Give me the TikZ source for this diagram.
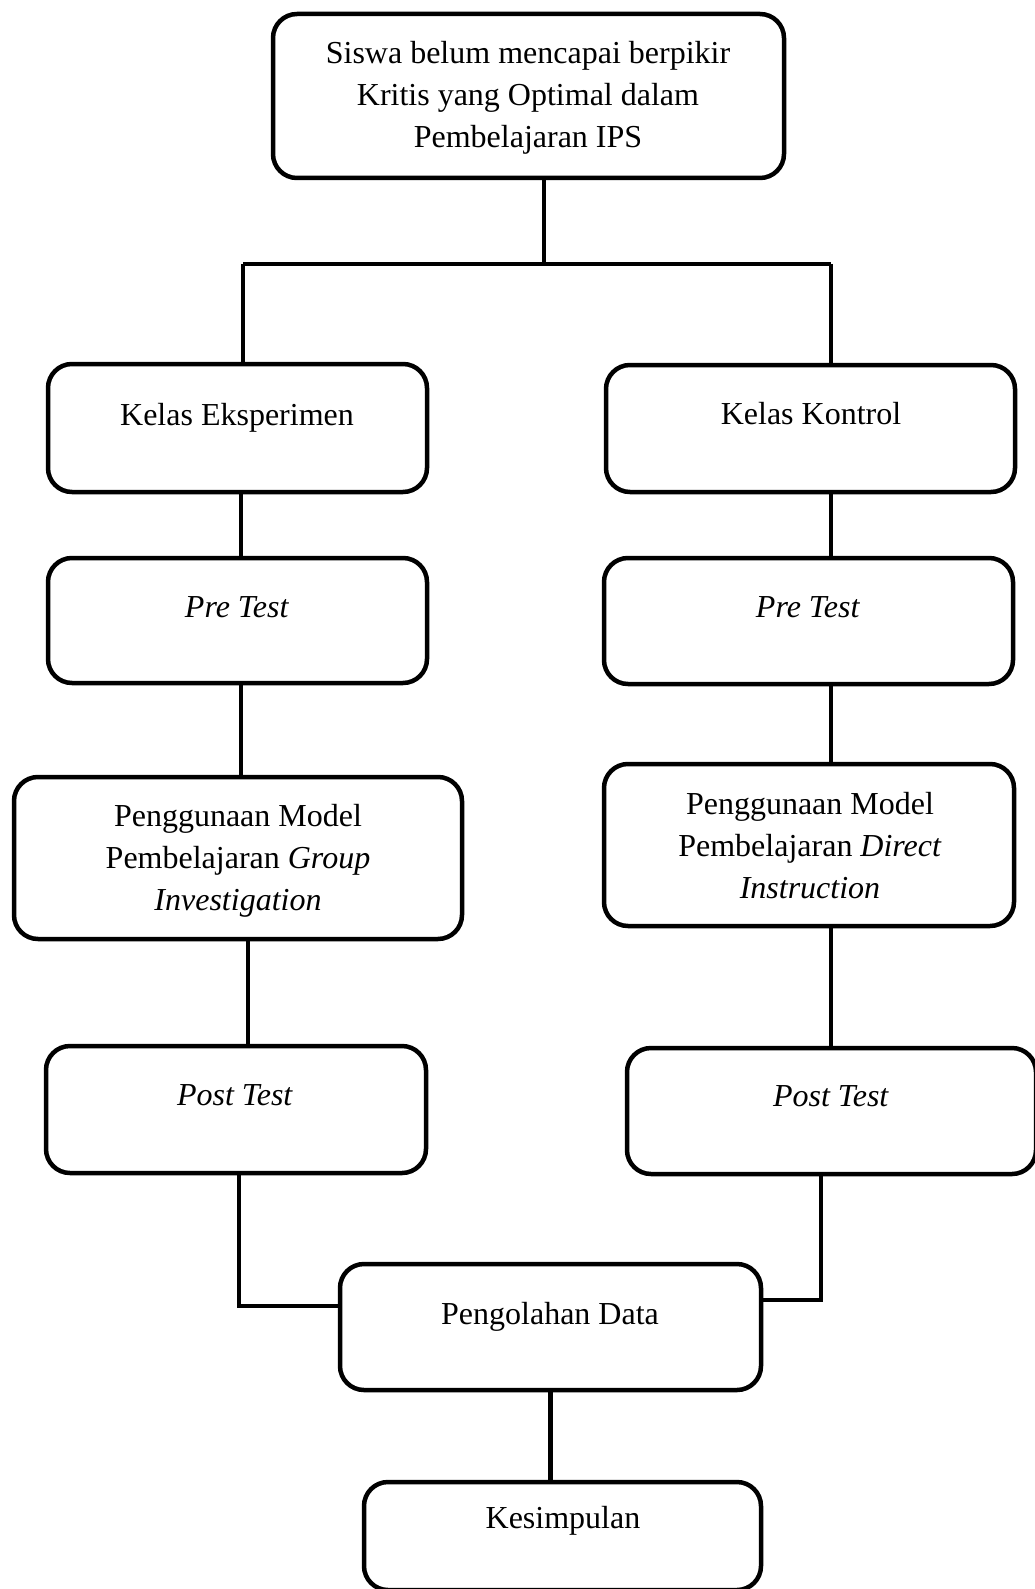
\documentclass[tikz,border=0pt]{standalone}
\usepackage{fontspec}
\setmainfont{Liberation Serif}
\usepackage{tikz}

\tikzset{
  kotak/.style={draw,line width=4.5pt,rounded corners=24pt,inner sep=0pt},
  teks/.style={font=\fontsize{32}{42}\selectfont,align=center,inner sep=0pt},
  garis/.style={line width=4.5pt}
}

\begin{document}
\begin{tikzpicture}[x=1pt,y=-1pt]
            \useasboundingbox (0,0) rectangle (1034,1589);
            % kotak
            \node (atas) at (528.5,96) [kotak,minimum width=511pt,minimum height=164pt] {};
            \node (eks) at (237.5,428) [kotak,minimum width=379pt,minimum height=128pt] {};
            \node (kon) at (810.5,428.5) [kotak,minimum width=409pt,minimum height=127pt] {};
            \node (pre1) at (237.5,620.5) [kotak,minimum width=379pt,minimum height=125pt] {};
            \node (pre2) at (808.5,621) [kotak,minimum width=409pt,minimum height=126pt] {};
            \node (gi) at (238,858) [kotak,minimum width=448pt,minimum height=162pt] {};
            \node (di) at (809,845) [kotak,minimum width=410pt,minimum height=162pt] {};
            \node (post1) at (236,1109.5) [kotak,minimum width=380pt,minimum height=127pt] {};
            \node (post2) at (831.5,1111) [kotak,minimum width=409pt,minimum height=126pt] {};
            \node (olah) at (550.5,1327) [kotak,minimum width=421pt,minimum height=126pt] {};
            \node (simpul) at (562.5,1536) [kotak,minimum width=397pt,minimum height=108pt] {};
            % teks
            \node (atasT) at (528,98) [teks] {Siswa belum mencapai berpikir\\Kritis yang Optimal dalam\\Pembelajaran IPS};
            \node (eksT) at (237,418) [teks] {Kelas Eksperimen};
            \node (konT) at (811,414) [teks] {Kelas Kontrol};
            \node (pre1T) at (237,607) [teks] {\textit{Pre Test}};
            \node (pre2T) at (808,607) [teks] {\textit{Pre Test}};
            \node (giT) at (238,861) [teks] {Penggunaan Model\\Pembelajaran \textit{Group}\\\textit{Investigation}};
            \node (diT) at (810,846) [teks] {Penggunaan Model\\Pembelajaran \textit{Direct}\\\textit{Instruction}};
            \node (post1T) at (235,1095) [teks] {\textit{Post Test}};
            \node (post2T) at (831,1096) [teks] {\textit{Post Test}};
            \node (olahT) at (550,1317) [teks] {Pengolahan Data};
            \node (simpulT) at (563,1521) [teks] {Kesimpulan};
            % jalur
            \coordinate (cabang) at (544,264);
            \coordinate (kiri) at (243,264);
            \coordinate (kanan) at (831,264);
            \coordinate (xa) at (241,0);
            \coordinate (xb) at (248,0);
            \coordinate (bkiri) at (239,1306);
            \coordinate (bkanan) at (821,1300);
            \draw[garis] (atas.south -| cabang) -- (cabang);
            \draw[garis] (kiri) -- (kanan);
            \draw[garis] (kiri) -- (kiri |- eks.north);
            \draw[garis] (kanan) -- (kanan |- kon.north);
            \draw[garis] (eks.south -| xa) -- (pre1.north -| xa);
            \draw[garis] (pre1.south -| xa) -- (gi.north -| xa);
            \draw[garis] (gi.south -| xb) -- (post1.north -| xb);
            \draw[garis] (kon.south -| kanan) -- (pre2.north -| kanan);
            \draw[garis] (pre2.south -| kanan) -- (di.north -| kanan);
            \draw[garis] (di.south -| kanan) -- (post2.north -| kanan);
            \draw[garis] (post1.south -| bkiri) -- (bkiri) -- (bkiri -| olah.west);
            \draw[garis] (post2.south -| bkanan) -- (bkanan) -- (bkanan -| olah.east);
            \draw[garis] (olah.south) -- (olah.south |- simpul.north);
        \end{tikzpicture}
\end{document}
